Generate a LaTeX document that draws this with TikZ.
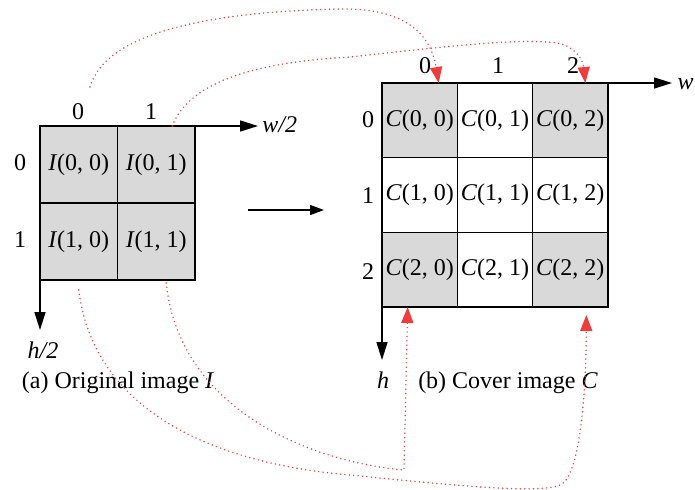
\documentclass[tikz,border=0pt]{standalone}
\usepackage{fontspec}
\setmainfont{Liberation Serif}
\usetikzlibrary{arrows.meta,calc}
\definecolor{CellGray}{HTML}{D9D9D9}
\definecolor{MapRed}{HTML}{F03C3C}

\begin{document}
\begin{tikzpicture}[
    x=0.5pt, y=-0.5pt,
    font=\fontsize{12}{14}\selectfont,
    icell/.style={
        inner sep=0pt, outer sep=0pt, fill=CellGray,
        minimum width=38.75pt, minimum height=38.5pt
    },
    ccell/.style={
        inner sep=0pt, outer sep=0pt, fill=white,
        minimum width=37.67pt, minimum height=37.33pt
    },
    border/.style={line width=0.8pt},
    axis/.style={-{Triangle[length=9pt,width=5.5pt]}, line width=0.8pt},
    mapline/.style={-{Triangle[length=8pt,width=6pt]}, draw=MapRed,
                    line width=0.8pt, line cap=round,
                    dash pattern=on 0pt off 2.2pt},
    tick label/.style={inner sep=1pt}
]
\useasboundingbox (0,0) rectangle (695,489);

% Original image I
\node[icell] (i00) at (78.75,164.5) {\textit{I}(0, 0)};
\node[icell] (i01) at (156.25,164.5) {\textit{I}(0, 1)};
\node[icell] (i10) at (78.75,241.5) {\textit{I}(1, 0)};
\node[icell] (i11) at (156.25,241.5) {\textit{I}(1, 1)};

\node[tick label] (ix0) at (78,112) {0};
\node[tick label] (ix1) at (151,112) {1};
\node[tick label] (iy0) at (20,163) {0};
\node[tick label] (iy1) at (20,240) {1};

\coordinate (iw) at (258,126);
\coordinate (ih) at (40,330);
\draw[axis] (i01.north east) -- (iw);
\draw[axis] (i10.south west) -- (ih);
\node[anchor=west, inner sep=1pt] (iwl) at (260,125) {\textit{w/2}};
\node (ihl) at (43,350) {\textit{h/2}};
\node (capa) at (118,383) {(a) Original image \textit{I}};

% Transformation arrow
\coordinate (ma) at (248,210);
\coordinate (mb) at (324,210);
\draw[-{Triangle[length=7pt,width=5pt]}, line width=0.6pt] (ma) -- (mb);

% Cover image C
\node[ccell, fill=CellGray] (c00) at (419.67,120.33) {\textit{C}(0, 0)};
\node[ccell] (c01) at (495,120.33) {\textit{C}(0, 1)};
\node[ccell, fill=CellGray] (c02) at (570.33,120.33) {\textit{C}(0, 2)};
\node[ccell] (c10) at (419.67,195) {\textit{C}(1, 0)};
\node[ccell] (c11) at (495,195) {\textit{C}(1, 1)};
\node[ccell] (c12) at (570.33,195) {\textit{C}(1, 2)};
\node[ccell, fill=CellGray] (c20) at (419.67,269.67) {\textit{C}(2, 0)};
\node[ccell] (c21) at (495,269.67) {\textit{C}(2, 1)};
\node[ccell, fill=CellGray] (c22) at (570.33,269.67) {\textit{C}(2, 2)};

% cell borders on top of the fills
\foreach \n in {i00,i01,i10,i11,c00,c01,c02,c10,c11,c12,c20,c21,c22}
    \draw[border] (\n.north west) rectangle (\n.south east);

\node[tick label] (cx0) at (425,66) {0};
\node[tick label] (cx1) at (498,66) {1};
\node[tick label] (cx2) at (573,66) {2};
\node[tick label] (cy0) at (368,120) {0};
\node[tick label] (cy1) at (368,196) {1};
\node[tick label] (cy2) at (368,272) {2};

\coordinate (cw) at (672,83);
\coordinate (ch) at (382,360);
\draw[axis] (c02.north east) -- (cw);
\draw[axis] (c20.south west) -- (ch);
\node[anchor=east, inner sep=0pt] (cwl) at (694,84) {\textit{w}};
\node (chl) at (383,380) {\textit{h}};
\node (capb) at (508,383) {(b) Cover image \textit{C}};

% Pixel mapping
\coordinate (s1) at (90,87);
\coordinate (s2) at ($(i01.north)+(16,0)$);
\coordinate (s3) at ($(i11.south)+(10,3)$);
\coordinate (s4) at ($(i10.south)+(0,10)$);
\coordinate (e1) at ($(c00.north)+(19,0)$);
\coordinate (e2) at ($(c02.north)+(15,0)$);
\coordinate (e3) at ($(c20.south)+(-12,0)$);
\coordinate (e4) at ($(c22.south)+(16,8)$);

\draw[mapline] (s1) .. controls (105,35) and (200,12) .. (340,9)
    .. controls (400,8) and (430,30) .. (e1);
\draw[mapline] (s2) .. controls (190,80) and (260,62) .. (350,57)
    .. controls (450,46) and (520,38) .. (557,43)
    .. controls (575,46) and (583,60) .. (e2);
\draw[mapline] (s3) .. controls (180,415) and (320,463) .. (404,470)
    -- (e3);
\draw[mapline] (s4) .. controls (95,420) and (230,465) .. (350,475)
    .. controls (450,485) and (545,495) .. (562,484)
    .. controls (579,473) and (586,400) .. (e4);

\end{tikzpicture}
\end{document}
